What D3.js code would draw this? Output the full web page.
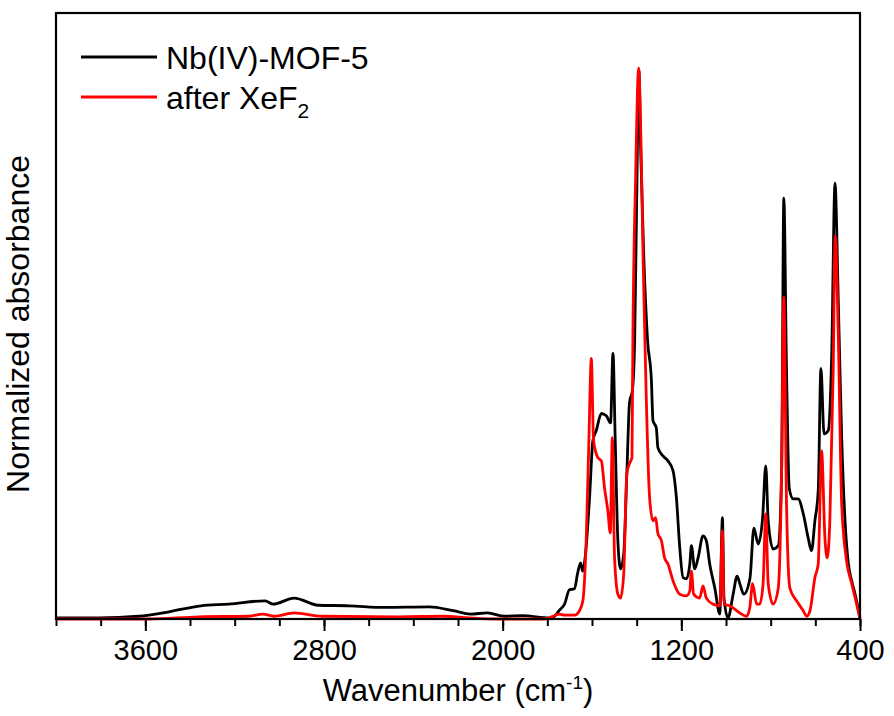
<!DOCTYPE html>
<html>
<head>
<meta charset="utf-8">
<script src="https://cdn.jsdelivr.net/npm/d3@7"></script>
<style>
  body { margin: 0; background: #fff; }
  text { font-family: "Liberation Sans", Arial, sans-serif; fill: #000; }
</style>
</head>
<body>
<div id="chart"></div>
<script>
// wavenumbers (cm-1) and normalized absorbance
var nbWave = [4000,3809,3629,3495,3351,3226,3064,3028,2934,2826,2687,2530,2329,2221,2145,2068,1992,1911,
  1790,1768,1746,1723,1701,1678,1665,1651,1642,1629,1611,1596,1581,1558,1536,1517,1506,1496,1484,1472,1458,
  1444,1432,1419,1409,1400,1390,1382,1369,1351,1334,1327,1312,1305,1282,1260,1237,1222,1207,1192,1177,1162,
  1155,1140,1125,1103,1088,1073,1050,1028,1016,1009,991,968,950,938,920,893,875,856,836,822,811,789,766,751,
  741,729,717,699,677,654,632,617,602,587,575,561,542,527,512,497,482,467,452,437,422,400];
var nbAbs = [0.002,0.002,0.005,0.013,0.024,0.027,0.033,0.027,0.038,0.025,0.024,0.021,0.022,0.015,0.009,0.011,0.005,0.006,
  0.002,0.005,0.016,0.027,0.053,0.055,0.082,0.102,0.087,0.118,0.220,0.324,0.342,0.373,0.369,0.356,0.482,0.324,0.140,0.091,0.118,
  0.264,0.393,0.415,0.505,0.760,0.996,0.851,0.669,0.505,0.433,0.360,0.347,0.311,0.296,0.287,0.269,0.220,0.129,0.075,0.073,0.100,
  0.133,0.091,0.111,0.151,0.142,0.100,0.056,0.009,0.184,0.038,0.002,0.045,0.078,0.064,0.045,0.073,0.165,0.136,0.184,0.278,0.178,0.127,0.133,0.269,
  0.764,0.451,0.238,0.218,0.218,0.191,0.147,0.124,0.178,0.233,0.455,0.336,0.342,0.475,0.791,0.573,0.329,0.178,0.100,0.069,0.045,0.002];

var xeWave = [4000,3584,3360,3136,3073,3024,2934,2808,2463,2270,2149,2015,1813,1790,1746,1723,1678,1656,1641,1626,1614,
  1603,1593,1574,1558,1544,1529,1518,1509,1499,1484,1472,1458,1444,1432,1421,1417,1405,1391,1380,1371,1364,1357,1342,
  1327,1315,1305,1289,1275,1260,1237,1207,1177,1162,1155,1145,1118,1103,1088,1058,1028,1016,1009,983,938,908,893,881,
  863,849,834,822,811,789,766,751,741,729,714,684,654,639,624,602,587,572,557,547,535,520,511,497,482,460,437,415,400];
var xeAbs = [0,0,0.004,0.005,0.009,0.005,0.011,0.005,0.004,0.005,0.002,0,0,0.002,0.009,0.007,0.007,0.015,0.033,0.142,0.324,
  0.473,0.324,0.293,0.287,0.238,0.196,0.156,0.329,0.111,0.045,0.038,0.082,0.264,0.282,0.293,0.505,0.796,1.000,0.851,0.651,0.524,0.402,0.220,
  0.178,0.184,0.155,0.142,0.111,0.100,0.069,0.045,0.042,0.051,0.087,0.045,0.038,0.060,0.038,0.027,0.024,0.160,0.027,0.024,0.011,0.005,0.022,0.064,
  0.027,0.027,0.064,0.191,0.064,0.027,0.056,0.269,0.584,0.209,0.056,0.033,0.015,0.005,0.015,0.075,0.100,0.305,0.147,0.111,0.178,0.451,0.696,0.511,0.209,0.105,0.064,0.027,0];

var majorTicks = [3600, 2800, 2000, 1200, 400];
var minorTicks = d3.range(400, 4001, 200);
var seriesNames = ["Nb(IV)-MOF-5", "after XeF"];
var seriesColors = ["#000000", "#ff0000"];

var width = 894, height = 716;
var margin = {top: 13, right: 34, bottom: 97, left: 56};
var innerW = width - margin.left - margin.right,
    innerH = height - margin.top - margin.bottom;

var svg = d3.select("#chart")
  .append("svg")
    .attr("width", width)
    .attr("height", height)
  .append("g")
    .attr("transform", "translate(" + margin.left + "," + margin.top + ")");

var x = d3.scaleLinear().domain([4000, 400]).range([0, innerW]);
var y = d3.scaleLinear().domain([0, 1.1]).range([innerH, 0]);

// minor ticks
svg.append("g")
  .attr("transform", "translate(0," + innerH + ")")
  .call(d3.axisBottom(x).tickValues(minorTicks).tickSize(7).tickFormat(""))
  .call(function(g) { g.select(".domain").remove(); })
  .selectAll("line").attr("stroke-width", 2);

// major ticks + labels
var xAxis = svg.append("g")
  .attr("transform", "translate(0," + innerH + ")")
  .call(d3.axisBottom(x).tickValues(majorTicks).tickSize(12).tickPadding(8).tickFormat(d3.format("d")));
xAxis.select(".domain").remove();
xAxis.selectAll("line").attr("stroke-width", 2);
xAxis.selectAll("text").style("font-size", "29px").attr("font-family", "Liberation Sans, Arial, sans-serif");

function pairs(w, a) { return w.map(function(d, i) { return [d, a[i]]; }); }

var line = d3.line()
  .curve(d3.curveMonotoneX)
  .x(function(d) { return x(d[0]); })
  .y(function(d) { return y(d[1]); });

svg.append("path")
  .datum(pairs(nbWave, nbAbs))
  .attr("fill", "none")
  .attr("stroke", seriesColors[0])
  .attr("stroke-width", 2.8)
  .attr("stroke-linejoin", "round")
  .attr("d", line);

svg.append("path")
  .datum(pairs(xeWave, xeAbs))
  .attr("fill", "none")
  .attr("stroke", seriesColors[1])
  .attr("stroke-width", 2.8)
  .attr("stroke-linejoin", "round")
  .attr("d", line);

// frame
svg.append("rect")
  .attr("width", innerW)
  .attr("height", innerH)
  .attr("fill", "none")
  .attr("stroke", "#000")
  .attr("stroke-width", 2.2);

// axis titles
var xt = svg.append("text")
  .attr("x", innerW / 2)
  .attr("y", innerH + 82)
  .attr("text-anchor", "middle")
  .style("font-size", "31px");
xt.append("tspan").text("Wavenumber (cm");
xt.append("tspan").attr("dy", -12).style("font-size", "19px").text("-1");
xt.append("tspan").attr("dy", 12).text(")");

svg.append("text")
  .attr("transform", "translate(-27," + (innerH / 2 + 8) + ") rotate(-90)")
  .attr("text-anchor", "middle")
  .style("font-size", "32px")
  .text("Normalized absorbance");

// legend
var legend = svg.append("g").attr("transform", "translate(25,44)");
seriesNames.forEach(function(name, i) {
  var g = legend.append("g").attr("transform", "translate(0," + (i * 40) + ")");
  g.append("line")
    .attr("x1", 0).attr("x2", 76)
    .attr("stroke", seriesColors[i])
    .attr("stroke-width", 2.8);
  var t = g.append("text")
    .attr("x", 85)
    .attr("dy", "0.36em")
    .style("font-size", "32px")
    .text(name);
  if (i === 1) {
    t.append("tspan").attr("dy", 9).style("font-size", "21px").text("2");
  }
});
</script>
</body>
</html>
